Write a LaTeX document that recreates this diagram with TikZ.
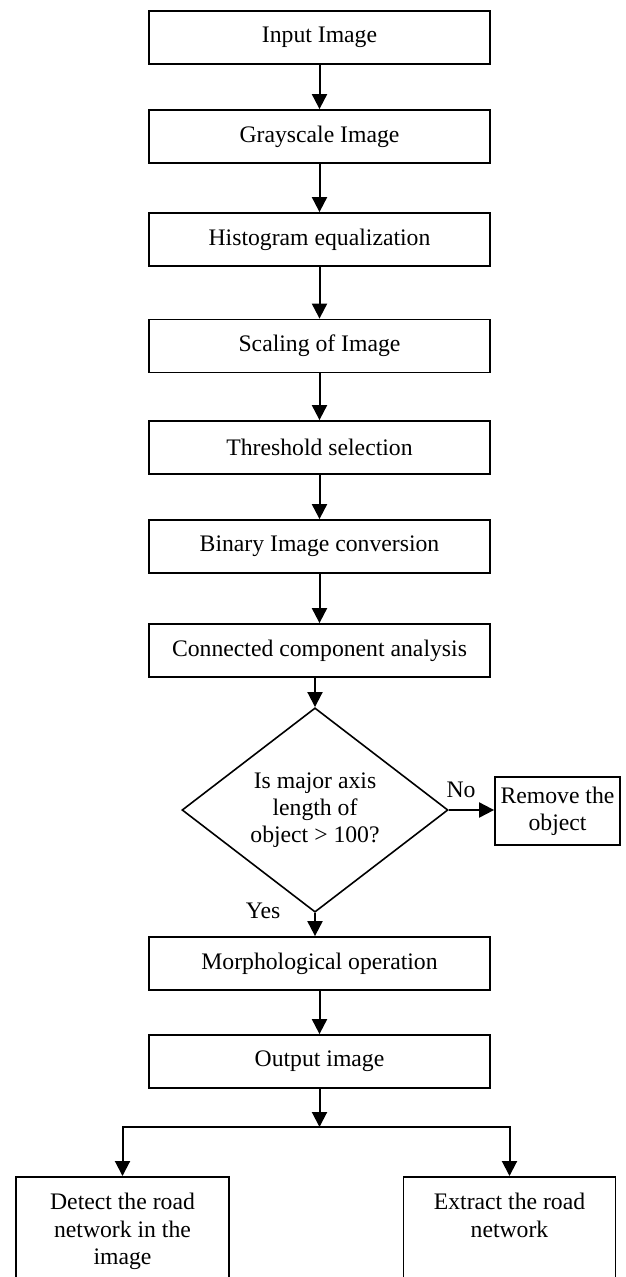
\documentclass[tikz,border=0pt]{standalone}
\usepackage{fontspec}
\setmainfont{Liberation Serif}
\usetikzlibrary{arrows.meta,shapes.geometric}
\newcommand\myfs{\fontsize{23.7}{27.2}\selectfont}
\begin{document}
\begin{tikzpicture}[x=1pt,y=-1pt,
  box/.style={draw, line width=1.8pt, minimum width=341pt, minimum height=53pt,
    inner sep=0pt, align=center, font=\myfs},
  arr/.style={line width=2pt, -{Triangle[length=15pt,width=15pt]}},
  lbl/.style={font=\myfs, anchor=base, inner sep=0pt}]
\useasboundingbox (0,0) rectangle (625,1277);
\node[box] (n1) at (319.5,37.5) {Input Image};
\node[box] (n2) at (319.5,136.5) {Grayscale Image};
\node[box] (n3) at (319.5,239.5) {Histogram equalization};
\node[box] (n4) at (319.5,346) {Scaling of Image};
\node[box] (n5) at (319.5,447.5) {Threshold selection};
\node[box] (n6) at (319.5,546.5) {Binary Image conversion};
\node[box] (n7) at (319.5,650.5) {Connected component analysis};
\node[draw, diamond, line width=1.6pt, minimum width=266pt, minimum height=166pt,
  inner sep=0pt, align=center, font=\myfs] (dia) at (315,810)
  {Is major axis\\length of\\object > 100?};
\node[box, minimum width=125pt, minimum height=68pt] (rem) at (557.5,811) {Remove the\\object};
\node[box] (morph) at (319.5,963.5) {Morphological operation};
\node[box] (out) at (319.5,1061.5) {Output image};
\node[draw, line width=1.8pt, anchor=north, inner sep=0pt] (det) at (122.5,1176)
  {\parbox[t][115pt][t]{213pt}{\myfs\centering\rule{0pt}{33pt}Detect the road\\network in the\\image}};
\node[draw, line width=1.8pt, anchor=north, inner sep=0pt] (ext) at (509.5,1176)
  {\parbox[t][115pt][t]{212pt}{\myfs\centering\rule{0pt}{33pt}Extract the road\\network}};
\node[lbl] (no) at (461,797) {No};
\node[lbl] (yes) at (263,918) {Yes};
\coordinate (j) at (319.5,1127);
\draw[arr] (n1) -- (n2);
\draw[arr] (n2) -- (n3);
\draw[arr] (n3) -- (n4);
\draw[arr] (n4) -- (n5);
\draw[arr] (n5) -- (n6);
\draw[arr] (n6) -- (n7);
\draw[arr] (dia.north |- n7.south) -- (dia.north);
\draw[arr] (dia.east) -- (dia.east -| rem.west);
\draw[arr] (dia.south) -- (dia.south |- morph.north);
\draw[arr] (morph) -- (out);
\draw[arr] (out) -- (j);
\draw[arr] (j) -| (det.north);
\draw[arr] (j) -| (ext.north);
\end{tikzpicture}
\end{document}
